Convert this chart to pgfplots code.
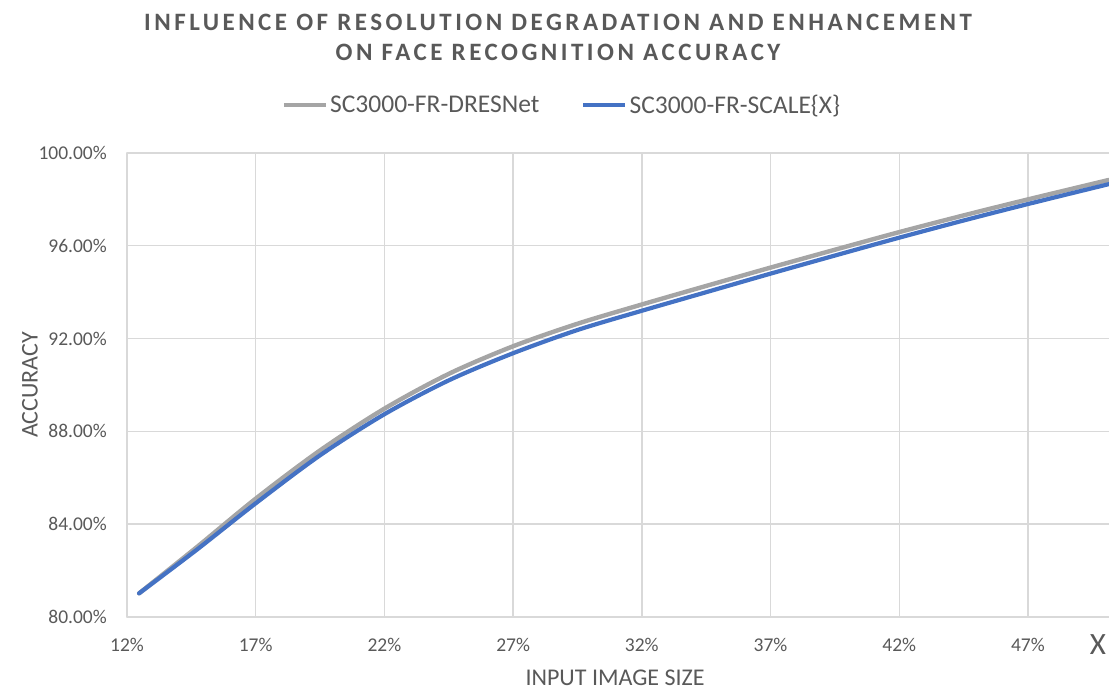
\documentclass[border=0pt]{standalone}
\usepackage{fontspec}
\setmainfont{Carlito}
\usepackage{pgfplots}
\pgfplotsset{compat=1.18}
\definecolor{txt}{HTML}{595959}
\definecolor{gridc}{HTML}{D9D9D9}
\definecolor{serA}{HTML}{A5A5A5}
\definecolor{serB}{HTML}{4472C4}
\pgfplotstableread{
x y
12.47 81.02
14.7 83.00
17 85.10
19.5 87.18
22 88.98
24.5 90.48
27 91.67
29.5 92.64
32 93.47
34.5 94.27
37 95.06
39.5 95.83
42 96.59
44.5 97.31
47 98.00
50.15 98.84
}\dresnet
\pgfplotstableread{
x y
12.47 81.02
14.7 82.89
17 84.90
19.5 86.97
22 88.74
24.5 90.20
27 91.37
29.5 92.37
32 93.20
34.5 94.00
37 94.80
39.5 95.58
42 96.35
44.5 97.09
47 97.80
50.15 98.66
}\scalex
\begin{document}
\begin{tikzpicture}[x=1pt,y=1pt]
\useasboundingbox (0,0) rectangle (1109,691);
\begin{axis}[
  at={(127pt,74pt)}, anchor=south west,
  scale only axis, width=982pt, height=464pt,
  xmin=12, xmax=50.15, ymin=80, ymax=100,
  xtick={12,17,22,27,32,37,42,47},
  xticklabels={12\%,17\%,22\%,27\%,32\%,37\%,42\%,47\%},
  ytick={80,84,88,92,96,100},
  yticklabels={80.00\%,84.00\%,88.00\%,92.00\%,96.00\%,100.00\%},
  grid=major, major grid style={draw=gridc, line width=1.4pt},
  axis line style={draw=none},
  major tick length=0pt,
  tick style={draw=none},
  ticklabel style={font=\fontsize{19.5}{22}\selectfont, text=txt, inner sep=0pt},
  xticklabel style={anchor=center, yshift=-28pt},
  yticklabel style={anchor=east, xshift=-20pt},
  xlabel={INPUT IMAGE SIZE}, ylabel={ACCURACY},
  label style={font=\fontsize{24}{26}\selectfont, text=txt},
  xlabel style={at={(axis description cs:0.497,-0.131)}, anchor=center},
  ylabel style={at={(axis description cs:-0.0988,0.5)}, anchor=center},
  title={INFLUENCE OF RESOLUTION DEGRADATION AND ENHANCEMENT\\ON FACE RECOGNITION ACCURACY},
  title style={at={(axis description cs:0.439,1.237)}, anchor=center, align=center,
    font=\fontsize{25}{30}\selectfont\bfseries\addfontfeature{LetterSpace=14}, text=txt},
  legend columns=2,
  legend style={at={(axis description cs:0.443,1.103)}, anchor=center, draw=none, fill=none,
    font=\fontsize{25.5}{28}\selectfont, text=txt,
    nodes={inner sep=2pt},
    /tikz/every even column/.append style={column sep=40pt}},
  legend image code/.code={\draw[#1] (0pt,0pt) -- (42pt,0pt);},
  line cap=round, line join=round,
]
\addplot[serA, line width=4.4pt, smooth] table[x=x,y=y] {\dresnet};
\addlegendentry{SC3000-FR-DRESNet}
\addplot[serB, line width=4.2pt, smooth] table[x=x,y=y] {\scalex};
\addlegendentry{SC3000-FR-SCALE\{X\}}
\end{axis}
\node[font=\fontsize{31}{34}\selectfont, text=txt] at (1098,46) {X};
\end{tikzpicture}
\end{document}
